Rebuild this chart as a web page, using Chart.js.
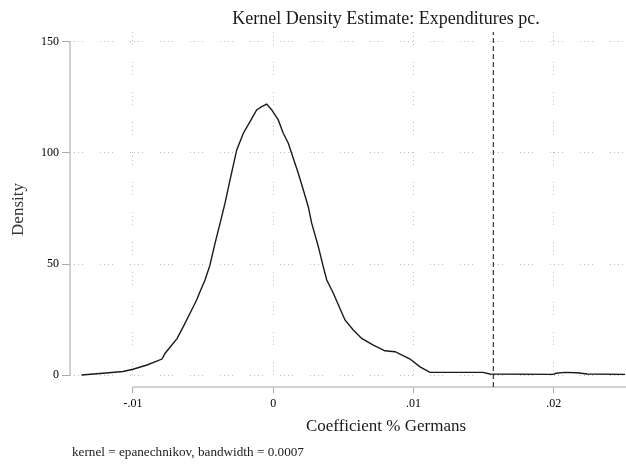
<!DOCTYPE html>
<html>
<head>
<meta charset="utf-8">
<script src="https://cdn.jsdelivr.net/npm/chart.js@4.4.1/dist/chart.umd.min.js"></script>
<style>
  html, body { margin: 0; padding: 0; background: #fff; }
  #wrap { position: relative; width: 626px; height: 466px; overflow: hidden; }
  #kde { position: absolute; left: 0; top: 0; }
  .txt { position: absolute; font-family: "Liberation Serif", serif; color: #1a1a1a; white-space: nowrap; line-height: 1; }
  #title { left: 386px; top: 9px; transform: translateX(-50%); font-size: 18px; }
  #xtitle { left: 386px; top: 417px; transform: translateX(-50%); font-size: 17px; }
  #note { left: 72px; top: 445px; font-size: 13.2px; }
</style>
</head>
<body>
<div id="wrap">
  <canvas id="kde" width="626" height="466"></canvas>
  <div class="txt" id="title">Kernel Density Estimate: Expenditures pc.</div>
  <div class="txt" id="xtitle">Coefficient % Germans</div>
  <div class="txt" id="note">kernel = epanechnikov, bandwidth = 0.0007</div>
</div>
<script>
// kernel density curve
const coefX = [-0.01367, -0.01235, -0.01071, -0.0100, -0.0090, -0.00793, -0.00772, -0.00686, -0.00641,
    -0.00593, -0.00546, -0.00522, -0.00486, -0.00451, -0.00415, -0.00379, -0.00344, -0.00308,
    -0.0026, -0.00213, -0.00165, -0.00118, -0.00082, -0.00046, -0.0001, 0.00036, 0.00072, 0.00108,
    0.00143, 0.00179, 0.00215, 0.0025, 0.00275, 0.00322, 0.00357, 0.00382, 0.00429, 0.00476, 0.00512,
    0.00571, 0.00631, 0.00714, 0.00797, 0.00869, 0.00976, 0.01047, 0.01118, 0.01496, 0.01546, 0.01996,
    0.02017, 0.02081, 0.02167, 0.02238, 0.02509];
const density = [0, 0.7, 1.6, 2.6, 4.5, 7.2, 9.7, 16.4, 21.8,
    27.8, 33.8, 37.5, 42.8, 49.5, 59.3, 68.3, 77.3, 87.8,
    101.4, 108.9, 114.1, 119.4, 120.9, 122.0, 119.4, 114.9, 108.9, 104.4,
    97.6, 90.9, 83.3, 75.8, 68.3, 57.8, 48.8, 42.8, 36.8, 30.0, 24.8,
    20.3, 16.5, 13.5, 10.9, 10.5, 7.2, 3.7, 1.2, 1.2, 0.45, 0.3,
    0.8, 1.2, 1.0, 0.45, 0.3];

const xTicks = [-0.01, 0, 0.01, 0.02];
const xTickLabels = ['-.01', '0', '.01', '.02'];
const yTicks = [0, 50, 100, 150];
const yTickLabels = ['0', '50', '100', '150'];
const xLine = 0.0157;

const X_MIN = -0.01449, X_MAX = 0.02516;
const Y_MIN = -5.4, Y_MAX = 154.5;

const gridDash = [1, 3, 1, 3, 1, 3, 1, 17];

// stata-style axis lines: only across the tick range
const axisLines = {
    id: 'axisLines',
    beforeDatasetsDraw(chart) {
        const { ctx, chartArea, scales } = chart;
        ctx.save();
        ctx.strokeStyle = '#c4c4c4';
        ctx.lineWidth = 1.5;
        ctx.beginPath();
        ctx.moveTo(chartArea.left, scales.y.getPixelForValue(yTicks[yTicks.length - 1]));
        ctx.lineTo(chartArea.left, scales.y.getPixelForValue(yTicks[0]));
        ctx.moveTo(scales.x.getPixelForValue(xTicks[0]), chartArea.bottom);
        ctx.lineTo(chartArea.right, chartArea.bottom);
        ctx.stroke();
        ctx.restore();
    }
};

const tickFont = { family: 'Liberation Serif', size: 12 };

new Chart(document.getElementById('kde').getContext('2d'), {
    type: 'line',
    data: {
        datasets: [{
            data: coefX.map((x, i) => ({ x: x, y: density[i] })),
            borderColor: '#1a1a1a',
            borderWidth: 1.4,
            pointRadius: 0,
            tension: 0
        }, {
            data: [{ x: xLine, y: Y_MIN }, { x: xLine, y: Y_MAX }],
            borderColor: '#3a3a3a',
            borderWidth: 1.2,
            borderDash: [5, 3],
            pointRadius: 0
        }]
    },
    options: {
        responsive: false,
        animation: false,
        devicePixelRatio: 1,
        layout: { padding: { top: 32, right: 0, bottom: 0, left: 0 } },
        plugins: {
            legend: { display: false },
            tooltip: { enabled: false }
        },
        scales: {
            x: {
                type: 'linear',
                min: X_MIN,
                max: X_MAX,
                afterBuildTicks: axis => { axis.ticks = xTicks.map(v => ({ value: v })); },
                afterFit: axis => { axis.height = 79; },
                ticks: {
                    callback: (v, i) => xTickLabels[i],
                    font: tickFont,
                    color: '#000',
                    padding: 4,
                    maxRotation: 0
                },
                grid: {
                    color: '#bdbdbd',
                    lineWidth: 1,
                    tickLength: 6,
                    tickColor: '#aaaaaa',
                    tickBorderDash: [],
                    borderDash: gridDash
                },
                border: { display: false, dash: gridDash }
            },
            y: {
                type: 'linear',
                min: Y_MIN,
                max: Y_MAX,
                afterBuildTicks: axis => { axis.ticks = yTicks.map(v => ({ value: v })); },
                afterFit: axis => { axis.width = 70; },
                ticks: {
                    callback: (v, i) => yTickLabels[i],
                    font: tickFont,
                    color: '#000',
                    padding: 3
                },
                grid: {
                    color: '#bdbdbd',
                    lineWidth: 1,
                    tickLength: 8,
                    tickColor: '#aaaaaa',
                    tickBorderDash: [],
                    borderDash: gridDash
                },
                border: { display: false, dash: gridDash },
                title: {
                    display: true,
                    text: 'Density',
                    font: { family: 'Liberation Serif', size: 17 },
                    color: '#333',
                    padding: { top: 8, bottom: 0 }
                }
            }
        }
    },
    plugins: [axisLines]
});
</script>
</body>
</html>
